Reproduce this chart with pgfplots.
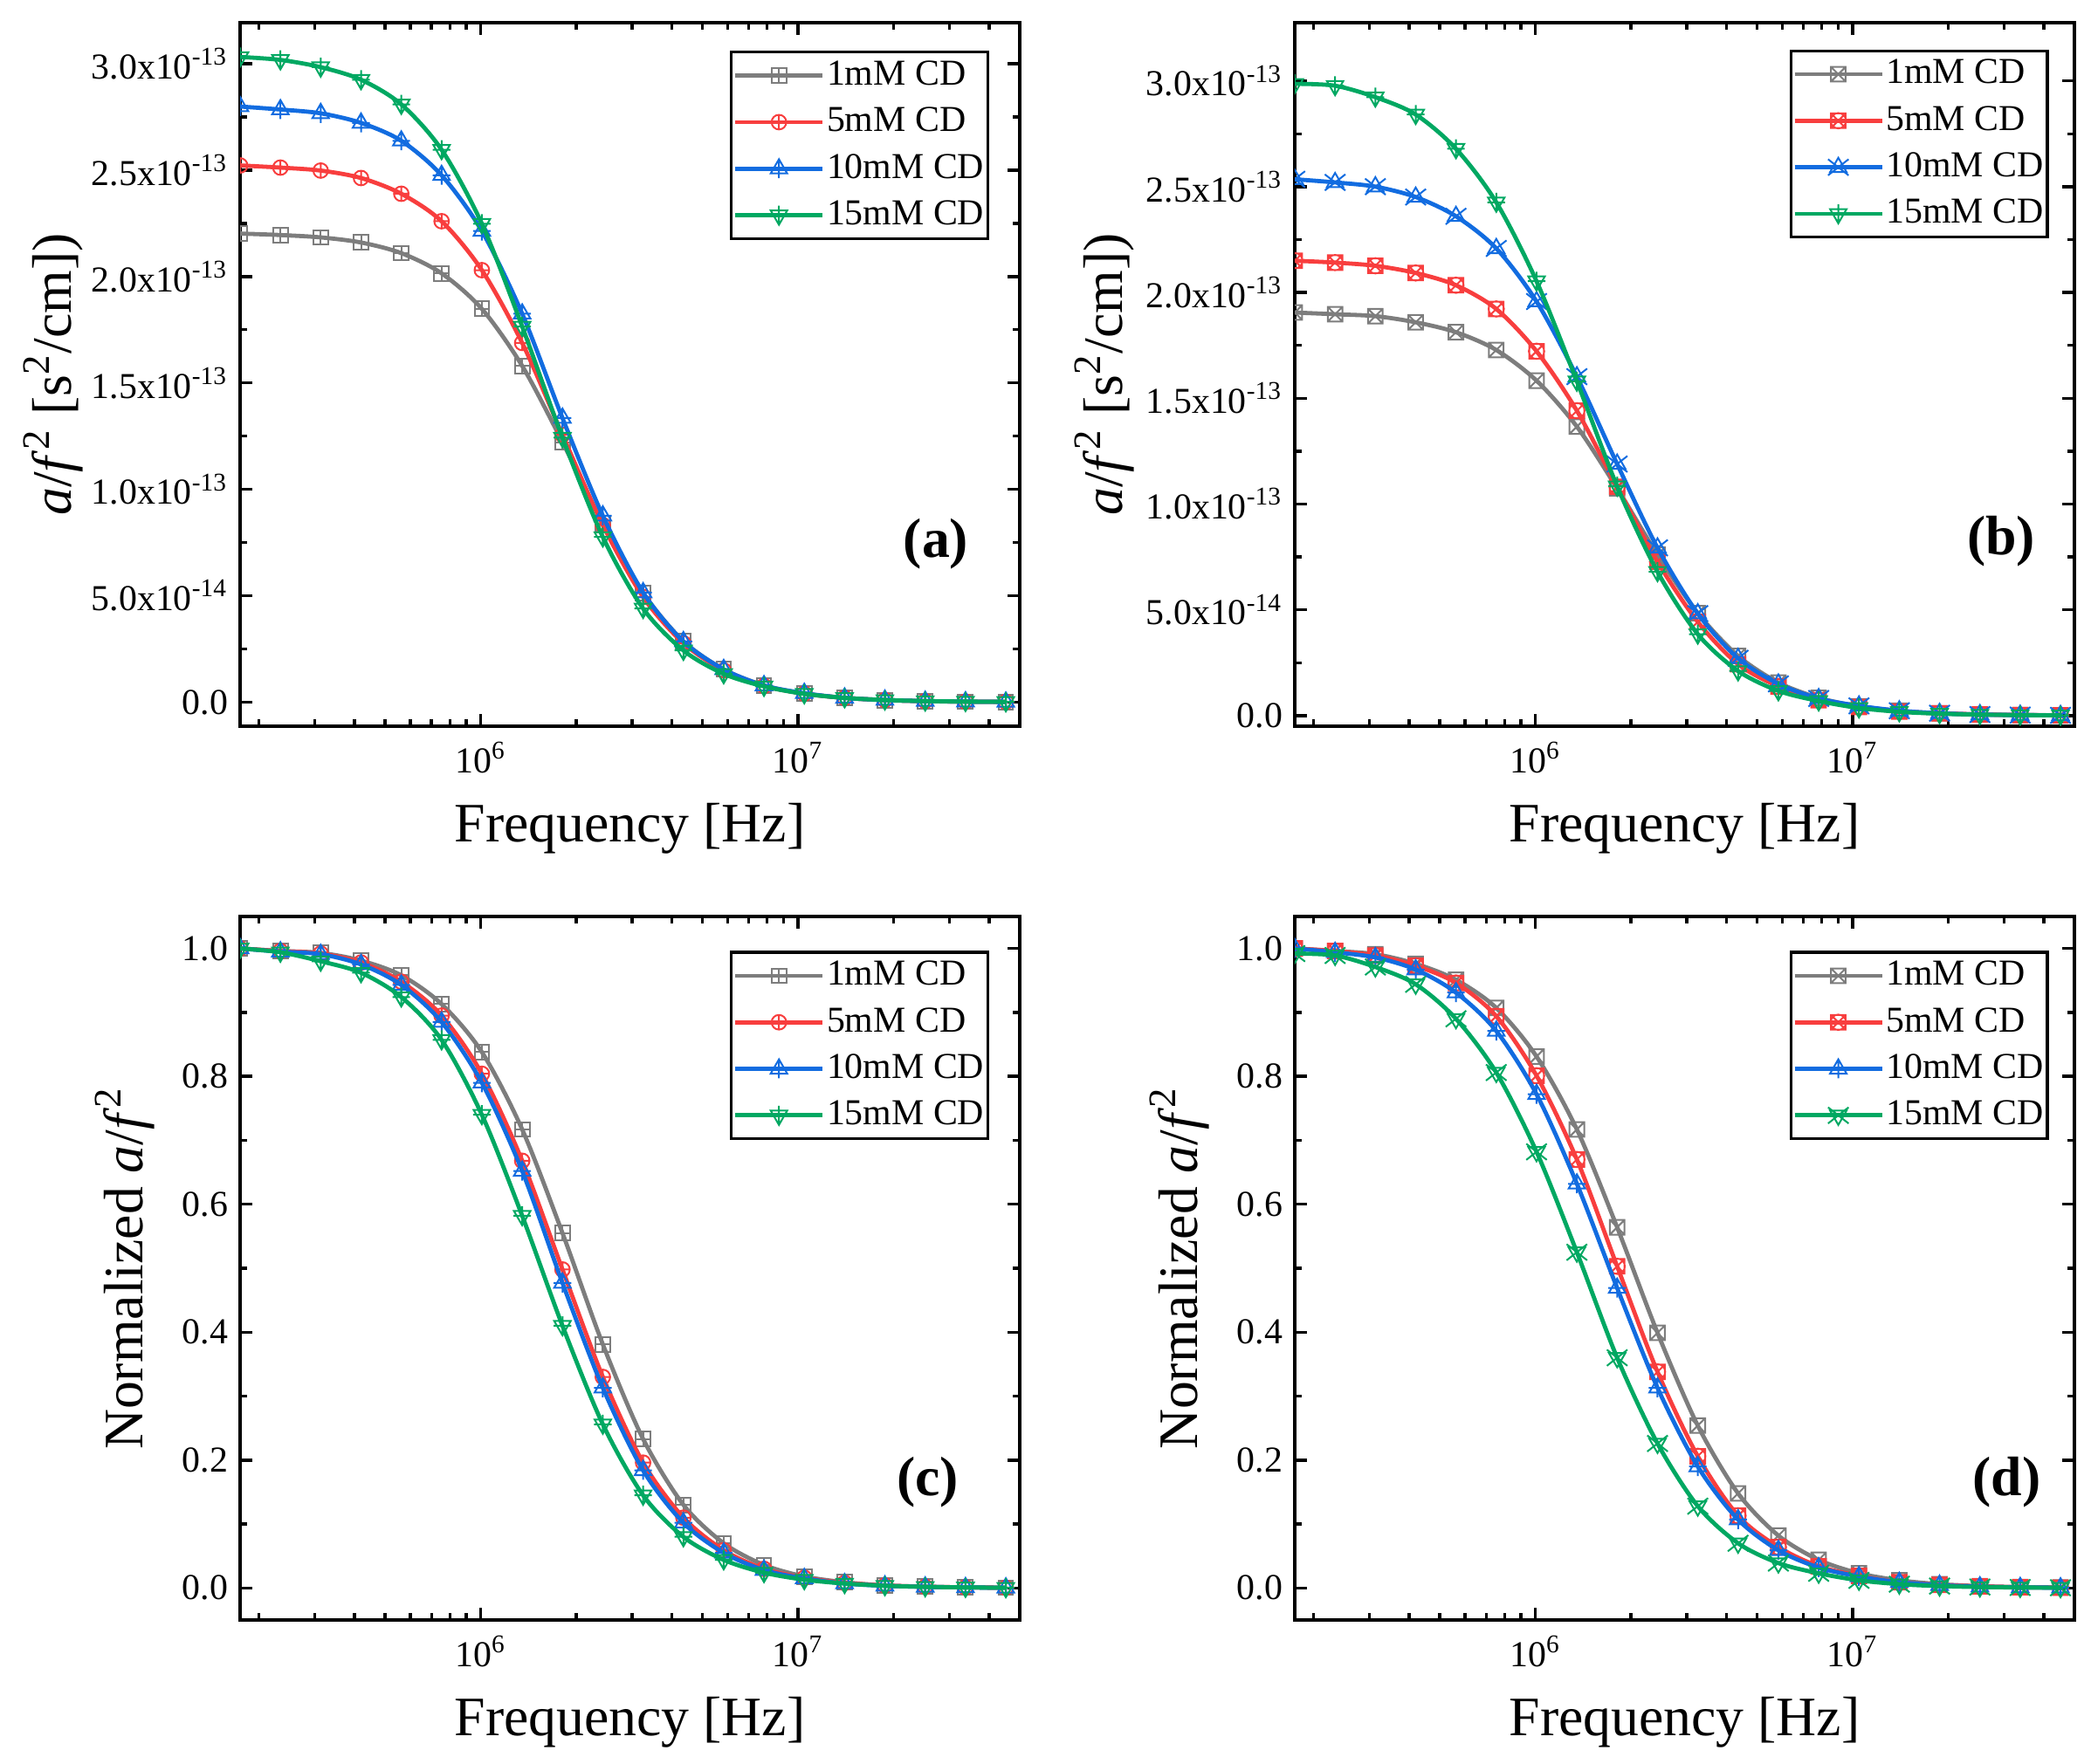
\documentclass[border=0pt]{standalone}
\usepackage{pgfplots}
\usepackage{pgfplotstable}
\pgfplotsset{compat=1.18}
\usepackage{fontspec}
\setmainfont{Liberation Serif}

\definecolor{cgray}{RGB}{125,125,125}
\definecolor{cred}{RGB}{248,62,62}
\definecolor{cblue}{RGB}{18,108,224}
\definecolor{cgreen}{RGB}{0,168,98}

\newcommand{\ticksize}{\fontsize{10.5}{12}\selectfont}
\newcommand{\labsize}{\fontsize{16}{19}\selectfont}

\pgfdeclareplotmark{sqplus}{%
  \pgfpathrectangle{\pgfqpoint{-\pgfplotmarksize}{-\pgfplotmarksize}}{\pgfqpoint{2\pgfplotmarksize}{2\pgfplotmarksize}}%
  \pgfpathmoveto{\pgfqpoint{-\pgfplotmarksize}{0pt}}\pgfpathlineto{\pgfqpoint{\pgfplotmarksize}{0pt}}%
  \pgfpathmoveto{\pgfqpoint{0pt}{-\pgfplotmarksize}}\pgfpathlineto{\pgfqpoint{0pt}{\pgfplotmarksize}}%
  \pgfusepathqstroke}
\pgfdeclareplotmark{sqx}{%
  \pgfpathrectangle{\pgfqpoint{-\pgfplotmarksize}{-\pgfplotmarksize}}{\pgfqpoint{2\pgfplotmarksize}{2\pgfplotmarksize}}%
  \pgfpathmoveto{\pgfqpoint{-\pgfplotmarksize}{-\pgfplotmarksize}}\pgfpathlineto{\pgfqpoint{\pgfplotmarksize}{\pgfplotmarksize}}%
  \pgfpathmoveto{\pgfqpoint{-\pgfplotmarksize}{\pgfplotmarksize}}\pgfpathlineto{\pgfqpoint{\pgfplotmarksize}{-\pgfplotmarksize}}%
  \pgfusepathqstroke}
\pgfdeclareplotmark{sqxo}{%
  \pgfpathrectangle{\pgfqpoint{-\pgfplotmarksize}{-\pgfplotmarksize}}{\pgfqpoint{2\pgfplotmarksize}{2\pgfplotmarksize}}%
  \pgfpathcircle{\pgfpointorigin}{1.05\pgfplotmarksize}%
  \pgfpathmoveto{\pgfqpoint{-\pgfplotmarksize}{-\pgfplotmarksize}}\pgfpathlineto{\pgfqpoint{\pgfplotmarksize}{\pgfplotmarksize}}%
  \pgfpathmoveto{\pgfqpoint{-\pgfplotmarksize}{\pgfplotmarksize}}\pgfpathlineto{\pgfqpoint{\pgfplotmarksize}{-\pgfplotmarksize}}%
  \pgfusepathqstroke}
\pgfdeclareplotmark{cplus}{%
  \pgfpathcircle{\pgfpointorigin}{\pgfplotmarksize}%
  \pgfpathmoveto{\pgfqpoint{-\pgfplotmarksize}{0pt}}\pgfpathlineto{\pgfqpoint{\pgfplotmarksize}{0pt}}%
  \pgfpathmoveto{\pgfqpoint{0pt}{-\pgfplotmarksize}}\pgfpathlineto{\pgfqpoint{0pt}{\pgfplotmarksize}}%
  \pgfusepathqstroke}
\pgfdeclareplotmark{triplus}{%
  \pgfpathmoveto{\pgfqpointpolar{90}{1.3\pgfplotmarksize}}%
  \pgfpathlineto{\pgfqpointpolar{210}{1.3\pgfplotmarksize}}%
  \pgfpathlineto{\pgfqpointpolar{330}{1.3\pgfplotmarksize}}\pgfpathclose
  \pgfpathmoveto{\pgfqpoint{-1.2\pgfplotmarksize}{0pt}}\pgfpathlineto{\pgfqpoint{1.2\pgfplotmarksize}{0pt}}%
  \pgfpathmoveto{\pgfqpoint{0pt}{-1.3\pgfplotmarksize}}\pgfpathlineto{\pgfqpoint{0pt}{1.3\pgfplotmarksize}}%
  \pgfusepathqstroke}
\pgfdeclareplotmark{invtriplus}{%
  \pgfpathmoveto{\pgfqpointpolar{270}{1.3\pgfplotmarksize}}%
  \pgfpathlineto{\pgfqpointpolar{30}{1.3\pgfplotmarksize}}%
  \pgfpathlineto{\pgfqpointpolar{150}{1.3\pgfplotmarksize}}\pgfpathclose
  \pgfpathmoveto{\pgfqpoint{-1.2\pgfplotmarksize}{0pt}}\pgfpathlineto{\pgfqpoint{1.2\pgfplotmarksize}{0pt}}%
  \pgfpathmoveto{\pgfqpoint{0pt}{-1.3\pgfplotmarksize}}\pgfpathlineto{\pgfqpoint{0pt}{1.3\pgfplotmarksize}}%
  \pgfusepathqstroke}
\pgfdeclareplotmark{trix}{%
  \pgfpathmoveto{\pgfqpointpolar{90}{1.3\pgfplotmarksize}}%
  \pgfpathlineto{\pgfqpointpolar{210}{1.3\pgfplotmarksize}}%
  \pgfpathlineto{\pgfqpointpolar{330}{1.3\pgfplotmarksize}}\pgfpathclose
  \pgfpathmoveto{\pgfqpoint{-1.4\pgfplotmarksize}{-1.1\pgfplotmarksize}}\pgfpathlineto{\pgfqpoint{1.4\pgfplotmarksize}{1.1\pgfplotmarksize}}%
  \pgfpathmoveto{\pgfqpoint{-1.4\pgfplotmarksize}{1.1\pgfplotmarksize}}\pgfpathlineto{\pgfqpoint{1.4\pgfplotmarksize}{-1.1\pgfplotmarksize}}%
  \pgfusepathqstroke}
\pgfdeclareplotmark{invtrix}{%
  \pgfpathmoveto{\pgfqpointpolar{270}{1.3\pgfplotmarksize}}%
  \pgfpathlineto{\pgfqpointpolar{30}{1.3\pgfplotmarksize}}%
  \pgfpathlineto{\pgfqpointpolar{150}{1.3\pgfplotmarksize}}\pgfpathclose
  \pgfpathmoveto{\pgfqpoint{-1.4\pgfplotmarksize}{-1.1\pgfplotmarksize}}\pgfpathlineto{\pgfqpoint{1.4\pgfplotmarksize}{1.1\pgfplotmarksize}}%
  \pgfpathmoveto{\pgfqpoint{-1.4\pgfplotmarksize}{1.1\pgfplotmarksize}}\pgfpathlineto{\pgfqpoint{1.4\pgfplotmarksize}{-1.1\pgfplotmarksize}}%
  \pgfusepathqstroke}

\pgfplotstableread{
f g r b gr
1.746e5 2.202 2.522 2.799 3.032
2.339e5 2.195 2.512 2.785 3.018
3.133e5 2.184 2.498 2.767 2.984
4.198e5 2.160 2.463 2.722 2.925
5.623e5 2.110 2.389 2.638 2.809
7.534e5 2.015 2.260 2.476 2.596
1.009e6 1.848 2.030 2.214 2.248
1.352e6 1.580 1.688 1.825 1.765
1.811e6 1.222 1.256 1.335 1.243
2.427e6 0.839 0.832 0.876 0.776
3.251e6 0.513 0.494 0.515 0.440
4.355e6 0.286 0.277 0.285 0.243
5.834e6 0.154 0.149 0.154 0.133
7.816e6 0.079 0.076 0.078 0.074
1.047e7 0.040 0.040 0.042 0.039
1.403e7 0.020 0.020 0.020 0.020
1.879e7 0.009 0.010 0.010 0.010
2.518e7 0.0044 0.005 0.005 0.005
3.373e7 0.0022 0.0025 0.0025 0.0027
4.519e7 0.0011 0.0013 0.0011 0.0012
}\tabA
\pgfplotstableread{
f g r b gr
1.746e5 1.905 2.150 2.535 2.986
2.339e5 1.897 2.141 2.520 2.977
3.133e5 1.888 2.126 2.500 2.923
4.198e5 1.859 2.092 2.451 2.841
5.623e5 1.812 2.034 2.360 2.679
7.534e5 1.728 1.922 2.208 2.426
1.009e6 1.583 1.722 1.957 2.053
1.352e6 1.366 1.441 1.602 1.580
1.811e6 1.074 1.081 1.189 1.084
2.427e6 0.760 0.727 0.793 0.680
3.251e6 0.484 0.443 0.482 0.385
4.355e6 0.282 0.243 0.271 0.211
5.834e6 0.156 0.138 0.150 0.117
7.816e6 0.084 0.073 0.081 0.069
1.047e7 0.044 0.041 0.046 0.036
1.403e7 0.023 0.019 0.023 0.018
1.879e7 0.011 0.011 0.011 0.009
2.518e7 0.0057 0.0054 0.0051 0.0045
3.373e7 0.0029 0.0026 0.0025 0.0024
4.519e7 0.0015 0.0013 0.0013 0.0012
}\tabB
\pgfplotstableread{
f g r b gr
1.746e5 1.000 1.000 1.000 1.000
2.339e5 0.996 0.996 0.995 0.994
3.133e5 0.993 0.992 0.991 0.980
4.198e5 0.981 0.978 0.975 0.962
5.623e5 0.958 0.948 0.943 0.924
7.534e5 0.913 0.895 0.885 0.857
1.009e6 0.838 0.804 0.790 0.740
1.352e6 0.717 0.668 0.652 0.582
1.811e6 0.555 0.498 0.477 0.410
2.427e6 0.381 0.330 0.313 0.256
3.251e6 0.233 0.196 0.184 0.145
4.355e6 0.130 0.110 0.102 0.080
5.834e6 0.070 0.059 0.055 0.044
7.816e6 0.036 0.030 0.028 0.024
1.047e7 0.018 0.016 0.015 0.013
1.403e7 0.009 0.008 0.007 0.007
1.879e7 0.004 0.004 0.0035 0.0035
2.518e7 0.002 0.002 0.0018 0.0018
3.373e7 0.001 0.001 0.0009 0.0009
4.519e7 0.0005 0.0005 0.0004 0.0004
}\tabC
\pgfplotstableread{
f g r b gr
1.746e5 1.000 1.000 1.000 0.992
2.339e5 0.996 0.996 0.994 0.989
3.133e5 0.991 0.989 0.986 0.971
4.198e5 0.976 0.973 0.967 0.944
5.623e5 0.951 0.946 0.931 0.890
7.534e5 0.907 0.894 0.871 0.806
1.009e6 0.831 0.801 0.772 0.682
1.352e6 0.717 0.670 0.632 0.525
1.811e6 0.564 0.503 0.469 0.360
2.427e6 0.399 0.338 0.313 0.226
3.251e6 0.254 0.206 0.190 0.128
4.355e6 0.148 0.113 0.107 0.070
5.834e6 0.082 0.064 0.059 0.039
7.816e6 0.044 0.034 0.032 0.023
1.047e7 0.023 0.019 0.018 0.012
1.403e7 0.012 0.009 0.009 0.006
1.879e7 0.006 0.005 0.0045 0.003
2.518e7 0.003 0.0025 0.002 0.0015
3.373e7 0.0015 0.0012 0.001 0.0008
4.519e7 0.0008 0.0006 0.0005 0.0004
}\tabD

\pgfplotsset{
  every axis/.append style={
    scale only axis, width=223.25bp, height=201.5bp,
    xmin=1.746e5, xmax=5.0e7,
    clip marker paths=true,
    tick align=inside,
    major tick length=3.6bp, minor tick length=1.9bp,
    every tick/.append style={black, line width=0.85bp},
    axis line style={line width=1.05bp},
    tick label style={font=\ticksize},
    xticklabel style={yshift=-1bp},
    scaled y ticks=false,
    xlabel style={font=\labsize, at={(axis description cs:0.5,-0.146)}, anchor=center},
    ylabel style={font=\labsize, anchor=center},
    legend cell align=left,
    legend style={anchor=north east, draw=black, line width=0.8bp, font=\ticksize,
      inner xsep=0.5bp, inner ysep=1bp, row sep=1.9bp,
      nodes={inner xsep=0.6bp, inner ysep=1.5bp},
      /tikz/every even column/.append style={column sep=2.4bp}},
  },
  every axis plot/.append style={
    legend image code/.code={\draw[mark repeat=2,mark phase=2] plot coordinates {(0bp,0bp) (12.5bp,0bp) (25bp,0bp)};},
  },
  sgray/.style={color=cgray, line width=1.2bp, smooth, mark size=2.1bp, mark options={line width=0.5bp, solid}},
  sred/.style={color=cred, line width=1.2bp, smooth, mark size=2.1bp, mark options={line width=0.5bp, solid}},
  sblue/.style={color=cblue, line width=1.2bp, smooth, mark size=2.1bp, mark options={line width=0.5bp, solid}},
  sgreen/.style={color=cgreen, line width=1.2bp, smooth, mark size=2.1bp, mark options={line width=0.5bp, solid}},
}

\begin{document}
\begin{tikzpicture}
% (a)
\begin{semilogxaxis}[anchor=south west, at={(68.75bp,297.25bp)},
  xtick={1e6,1e7}, xticklabels={10\textsuperscript{6},10\textsuperscript{7}},
  minor xtick={2e5,3e5,4e5,5e5,6e5,7e5,8e5,9e5,2e6,3e6,4e6,5e6,6e6,7e6,8e6,9e6,2e7,3e7,4e7,5e7},
  xlabel={Frequency [Hz]},
  ymin=-0.113, ymax=3.193,
  ytick={0,0.5,1,1.5,2,2.5,3}, minor ytick={0.25,0.75,1.25,1.75,2.25,2.75},
  yticklabels={0.0,5.0x10\textsuperscript{-14},1.0x10\textsuperscript{-13},1.5x10\textsuperscript{-13},2.0x10\textsuperscript{-13},2.5x10\textsuperscript{-13},3.0x10\textsuperscript{-13}},
  ylabel={\textit{a}/\textit{f}\textsuperscript{2} [s\textsuperscript{2}/cm])},
  ylabel style={at={(axis description cs:-0.24,0.5)}},
  legend style={at={(0.961,0.960)}}]
\addplot[sgray, mark=sqplus] table[x=f,y=g] {\tabA};
\addplot[sred, mark=cplus] table[x=f,y=r] {\tabA};
\addplot[sblue, mark=triplus] table[x=f,y=b] {\tabA};
\addplot[sgreen, mark=invtriplus] table[x=f,y=gr] {\tabA};
\legend{1mM CD,5mM CD,10mM CD,15mM CD}
\node[font=\labsize\bfseries] at (axis description cs:0.8925,0.259) {(a)};
\end{semilogxaxis}
% (b)
\begin{semilogxaxis}[anchor=south west, at={(370.75bp,297.25bp)},
  xtick={1e6,1e7}, xticklabels={10\textsuperscript{6},10\textsuperscript{7}},
  minor xtick={2e5,3e5,4e5,5e5,6e5,7e5,8e5,9e5,2e6,3e6,4e6,5e6,6e6,7e6,8e6,9e6,2e7,3e7,4e7,5e7},
  xlabel={Frequency [Hz]},
  ymin=-0.05, ymax=3.275,
  ytick={0,0.5,1,1.5,2,2.5,3}, minor ytick={0.25,0.75,1.25,1.75,2.25,2.75},
  yticklabels={0.0,5.0x10\textsuperscript{-14},1.0x10\textsuperscript{-13},1.5x10\textsuperscript{-13},2.0x10\textsuperscript{-13},2.5x10\textsuperscript{-13},3.0x10\textsuperscript{-13}},
  ylabel={\textit{a}/\textit{f}\textsuperscript{2} [s\textsuperscript{2}/cm])},
  ylabel style={at={(axis description cs:-0.244,0.5)}},
  legend style={at={(0.967,0.962)}}]
\addplot[sgray, mark=sqx] table[x=f,y=g] {\tabB};
\addplot[sred, mark=sqxo] table[x=f,y=r] {\tabB};
\addplot[sblue, mark=trix] table[x=f,y=b] {\tabB};
\addplot[sgreen, mark=invtriplus] table[x=f,y=gr] {\tabB};
\legend{1mM CD,5mM CD,10mM CD,15mM CD}
\node[font=\labsize\bfseries] at (axis description cs:0.906,0.263) {(b)};
\end{semilogxaxis}
% (c)
\begin{semilogxaxis}[anchor=south west, at={(68.75bp,41.25bp)},
  xtick={1e6,1e7}, xticklabels={10\textsuperscript{6},10\textsuperscript{7}},
  minor xtick={2e5,3e5,4e5,5e5,6e5,7e5,8e5,9e5,2e6,3e6,4e6,5e6,6e6,7e6,8e6,9e6,2e7,3e7,4e7,5e7},
  xlabel={Frequency [Hz]},
  ymin=-0.05, ymax=1.05,
  ytick={0,0.2,0.4,0.6,0.8,1.0}, minor ytick={0.1,0.3,0.5,0.7,0.9},
  yticklabels={0.0,0.2,0.4,0.6,0.8,1.0},
  ylabel={Normalized \textit{a}/\textit{f}\textsuperscript{2}},
  ylabel style={at={(axis description cs:-0.148,0.5)}},
  legend style={at={(0.961,0.951)}}]
\addplot[sgray, mark=sqplus] table[x=f,y=g] {\tabC};
\addplot[sred, mark=cplus] table[x=f,y=r] {\tabC};
\addplot[sblue, mark=triplus] table[x=f,y=b] {\tabC};
\addplot[sgreen, mark=invtriplus] table[x=f,y=gr] {\tabC};
\legend{1mM CD,5mM CD,10mM CD,15mM CD}
\node[font=\labsize\bfseries] at (axis description cs:0.882,0.196) {(c)};
\end{semilogxaxis}
% (d)
\begin{semilogxaxis}[anchor=south west, at={(370.75bp,41.25bp)},
  xtick={1e6,1e7}, xticklabels={10\textsuperscript{6},10\textsuperscript{7}},
  minor xtick={2e5,3e5,4e5,5e5,6e5,7e5,8e5,9e5,2e6,3e6,4e6,5e6,6e6,7e6,8e6,9e6,2e7,3e7,4e7,5e7},
  xlabel={Frequency [Hz]},
  ymin=-0.05, ymax=1.05,
  ytick={0,0.2,0.4,0.6,0.8,1.0}, minor ytick={0.1,0.3,0.5,0.7,0.9},
  yticklabels={0.0,0.2,0.4,0.6,0.8,1.0},
  ylabel={Normalized \textit{a}/\textit{f}\textsuperscript{2}},
  ylabel style={at={(axis description cs:-0.148,0.5)}},
  legend style={at={(0.967,0.951)}}]
\addplot[sgray, mark=sqx] table[x=f,y=g] {\tabD};
\addplot[sred, mark=sqxo] table[x=f,y=r] {\tabD};
\addplot[sblue, mark=triplus] table[x=f,y=b] {\tabD};
\addplot[sgreen, mark=invtrix] table[x=f,y=gr] {\tabD};
\legend{1mM CD,5mM CD,10mM CD,15mM CD}
\node[font=\labsize\bfseries] at (axis description cs:0.913,0.196) {(d)};
\end{semilogxaxis}
\pgfresetboundingbox
\useasboundingbox (0,0) rectangle (598.75bp,505.25bp);
\end{tikzpicture}
\end{document}
